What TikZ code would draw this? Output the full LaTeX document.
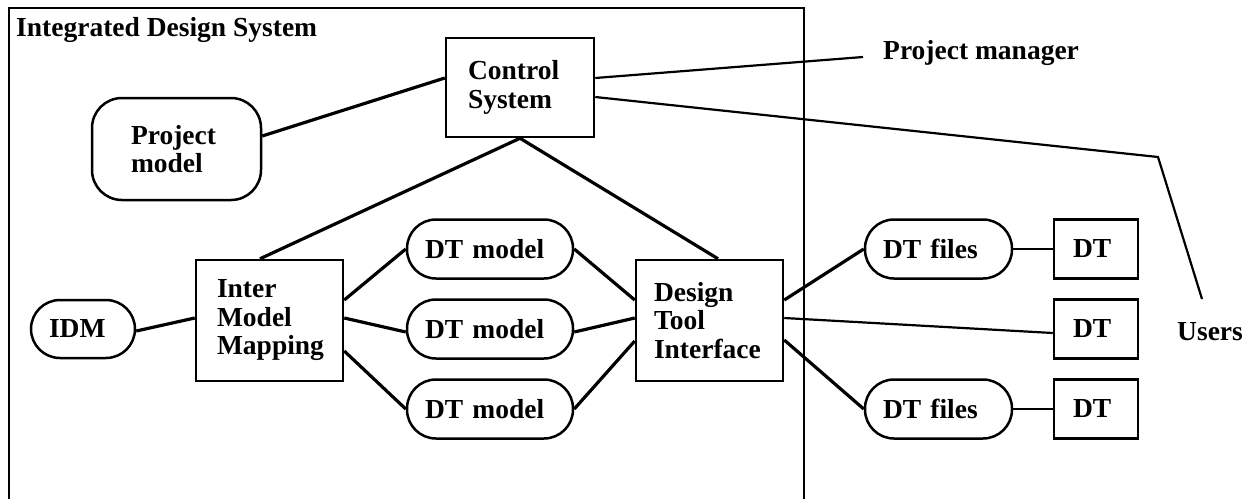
\documentclass[tikz,border=0pt]{standalone}
\usepackage{fontspec}
\setmainfont{Liberation Serif}
\usetikzlibrary{calc}
\tikzset{
  lbl/.style={font=\fontsize{27.5}{28.5}\selectfont\bfseries, align=left, inner ysep=0pt},
  sqbox/.style={lbl, draw, line width=2.5pt},
  pill/.style={lbl, draw, line width=2.5pt, rounded corners=29pt},
  conn/.style={line width=3.2pt},
  thinconn/.style={line width=2.2pt},
  frame/.style={line width=2.2pt}
}
\begin{document}
\begin{tikzpicture}[x=1pt,y=-1pt]
\useasboundingbox (0,0) rectangle (1253,499);
\fill[white] (0,0) rectangle (1253,499);
% outer frame
\draw[frame] (9,499) -- (9,8) -- (804,8) -- (804,499);
\node[lbl, anchor=base west, inner sep=0pt] (title) at (16,36) {Integrated Design System};
% nodes
\node[sqbox, minimum width=148pt, minimum height=99pt, inner xsep=22pt, text width=104pt] (cs) at (520,87.5) {Control\\System};
\node[sqbox, rounded corners=30pt, minimum width=169pt, minimum height=102pt, inner xsep=39pt, text width=91pt] (pm) at (176.5,149) {Project\\model};
\node[sqbox, minimum width=147pt, minimum height=121pt, inner xsep=21pt, text width=105pt] (imm) at (269.5,320.5) {Inter\\Model\\Mapping};
\node[sqbox, minimum width=147pt, minimum height=121pt, inner xsep=18pt, text width=111pt] (dti) at (709.5,320.5) {Design\\Tool\\Interface};
\node[pill, minimum width=104pt, minimum height=58pt, inner xsep=18pt, text width=68pt] (idm) at (83,329) {IDM};
\node[pill, minimum width=166pt, minimum height=59pt, inner xsep=18pt, text width=130pt] (dt1) at (490,249) {DT model};
\node[pill, minimum width=166pt, minimum height=59pt, inner xsep=18pt, text width=130pt] (dt2) at (490,329) {DT model};
\node[pill, minimum width=166pt, minimum height=59pt, inner xsep=18pt, text width=130pt] (dt3) at (490,409) {DT model};
\node[pill, minimum width=147pt, minimum height=59pt, inner xsep=18pt, text width=111pt] (dtf1) at (938.5,249) {DT files};
\node[pill, minimum width=147pt, minimum height=59pt, inner xsep=18pt, text width=111pt] (dtf2) at (938.5,409) {DT files};
\node[sqbox, minimum width=84pt, minimum height=59pt, inner xsep=19pt, text width=46pt] (dtb1) at (1096,249) {DT};
\node[sqbox, minimum width=84pt, minimum height=59pt, inner xsep=19pt, text width=46pt] (dtb2) at (1096,329) {DT};
\node[sqbox, minimum width=84pt, minimum height=59pt, inner xsep=19pt, text width=46pt] (dtb3) at (1096,409) {DT};
\node[lbl, anchor=base west, inner sep=0pt] (pmgr) at (883,59) {Project manager};
\node[lbl, anchor=base west, inner sep=0pt] (users) at (1177,340) {Users};
\coordinate (pmend) at (863,57);
\coordinate (ubend) at (1158,157);
\coordinate (uend) at (1202,299);
% connectors
\draw[conn] ($(pm.east)+(0,-13)$) -- ($(cs.west)+(0,-9.5)$);
\draw[conn] (cs.south) -- ($(imm.north)+(-9.5,0)$);
\draw[conn] (cs.south) -- ($(dti.north)+(8.5,0)$);
\draw[thinconn] ($(cs.east)+(0,-9.5)$) -- (pmend);
\draw[thinconn] ($(cs.east)+(0,9.5)$) -- (ubend) -- (uend);
\draw[conn] ($(idm.east)+(0,2)$) -- ($(imm.west)+(0,-2.5)$);
\draw[conn] ($(imm.east)+(0,-20.5)$) -- (dt1.west);
\draw[conn] ($(imm.east)+(0,-2.5)$) -- ($(dt2.west)+(0,3)$);
\draw[conn] ($(imm.east)+(0,30.5)$) -- (dt3.west);
\draw[conn] (dt1.east) -- ($(dti.west)+(0,-20.5)$);
\draw[conn] ($(dt2.east)+(0,3)$) -- ($(dti.west)+(0,-2.5)$);
\draw[conn] (dt3.east) -- ($(dti.west)+(0,20.5)$);
\draw[conn] ($(dti.east)+(0,-20.5)$) -- (dtf1.west);
\draw[thinconn] ($(dti.east)+(0,-2.5)$) -- ($(dtb2.west)+(0,4)$);
\draw[conn] ($(dti.east)+(0,19.5)$) -- (dtf2.west);
\draw[thinconn, line width=2.6pt] (dtf1.east) -- (dtb1.west);
\draw[thinconn, line width=2.6pt] (dtf2.east) -- (dtb3.west);
\end{tikzpicture}
\end{document}
